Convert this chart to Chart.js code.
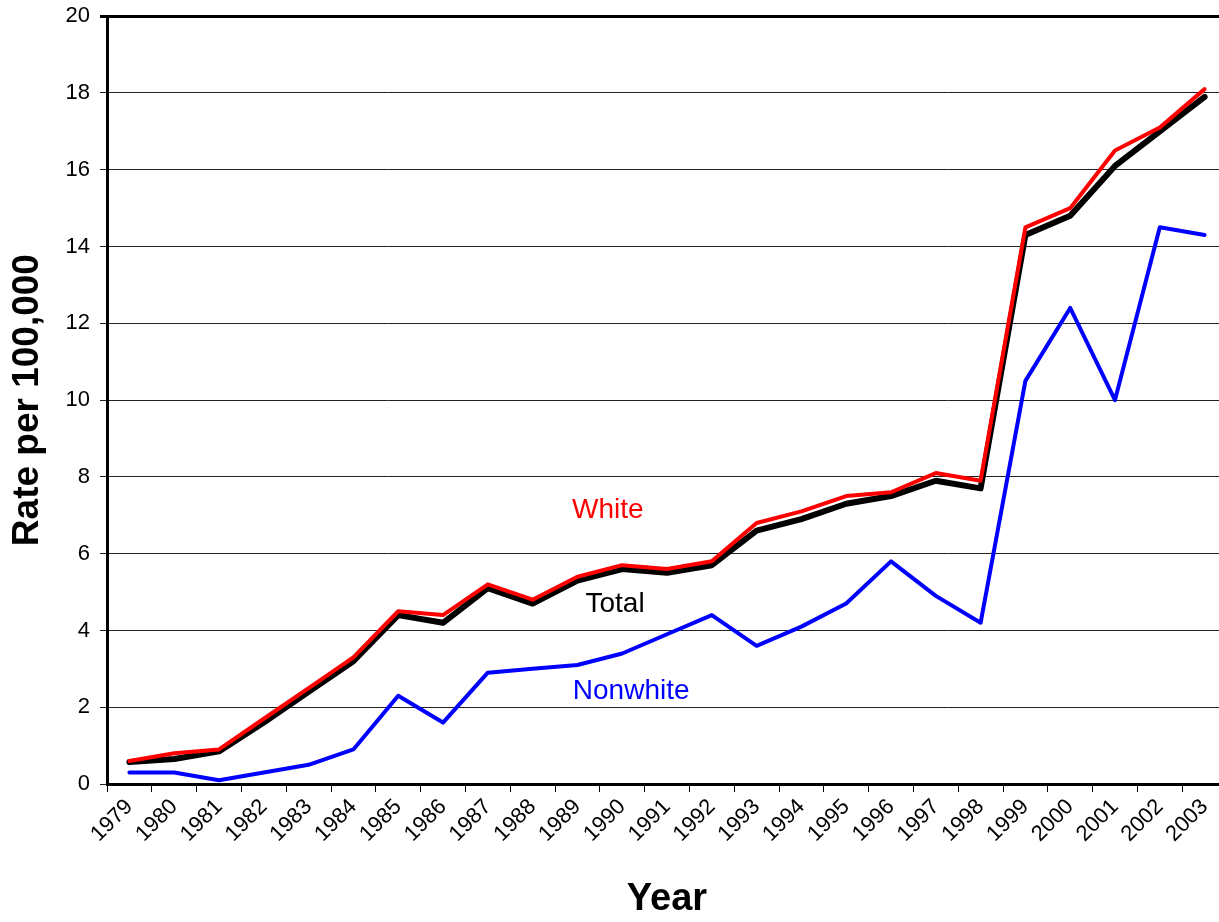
<!DOCTYPE HTML>
<html>

<head>
    <title>Rate per 100,000 by Year</title>
    <meta charset="utf-8" />
    <script src="https://cdn.jsdelivr.net/npm/chart.js@4"></script>
    <style>
        body { margin: 0; background: #fff; }
        #frame { position: relative; width: 1219px; height: 922px; overflow: hidden; }
        /* plot runs a little past the right edge, as in the original */
        #wrap { position: absolute; left: 0; top: -7px; width: 1227px; height: 929px; }
    </style>
</head>

<body>
    <div id="frame"><div id="wrap"><canvas id="rateChart"></canvas></div></div>

    <script>
        // Data
        const years = ['1979', '1980', '1981', '1982', '1983', '1984', '1985', '1986', '1987', '1988', '1989', '1990', '1991',
            '1992', '1993', '1994', '1995', '1996', '1997', '1998', '1999', '2000', '2001', '2002', '2003'];
        const whiteRate = [0.6, 0.8, 0.9, 1.7, 2.5, 3.3, 4.5, 4.4, 5.2, 4.8, 5.4, 5.7, 5.6,
            5.8, 6.8, 7.1, 7.5, 7.6, 8.1, 7.9, 14.5, 15.0, 16.5, 17.1, 18.1];
        const totalRate = [0.57, 0.65, 0.85, 1.6, 2.4, 3.2, 4.4, 4.2, 5.1, 4.7, 5.3, 5.6, 5.5,
            5.7, 6.6, 6.9, 7.3, 7.5, 7.9, 7.7, 14.3, 14.8, 16.1, 17.0, 17.9];
        const nonwhiteRate = [0.3, 0.3, 0.1, 0.3, 0.5, 0.9, 2.3, 1.6, 2.9, 3.0, 3.1, 3.4, 3.9,
            4.4, 3.6, 4.1, 4.7, 5.8, 4.9, 4.2, 10.5, 12.4, 10.0, 14.5, 14.3];
        const yTicks = [0, 2, 4, 6, 8, 10, 12, 14, 16, 18, 20];

        // Series names written inside the plot (year index, value)
        const seriesLabels = [
            { text: 'White', color: '#ff0000', at: 10.68, value: 7.14 },
            { text: 'Total', color: '#000000', at: 10.84, value: 4.69 },
            { text: 'Nonwhite', color: '#0000ff', at: 11.2, value: 2.42 },
        ];

        // Draw the in-plot series names
        const seriesLabelPlugin = {
            id: 'seriesLabels',
            afterDatasetsDraw(chart) {
                const ctx = chart.ctx;
                const x = chart.scales.x, y = chart.scales.y;
                ctx.save();
                ctx.font = '28px "Liberation Sans", Arial, sans-serif';
                ctx.textAlign = 'center';
                ctx.textBaseline = 'middle';
                seriesLabels.forEach(l => {
                    ctx.fillStyle = l.color;
                    ctx.fillText(l.text, x.getPixelForValue(l.at), y.getPixelForValue(l.value));
                });
                ctx.restore();
            }
        };

        const font = { family: '"Liberation Sans", Arial, sans-serif', size: 22 };

        new Chart(document.getElementById('rateChart').getContext('2d'), {
            type: 'line',
            data: {
                labels: years,
                datasets: [
                    { label: 'White', data: whiteRate, borderColor: '#ff0000', borderWidth: 4 },
                    { label: 'Total', data: totalRate, borderColor: '#000000', borderWidth: 6 },
                    { label: 'Nonwhite', data: nonwhiteRate, borderColor: '#0000ff', borderWidth: 4 },
                ],
            },
            options: {
                responsive: true,
                maintainAspectRatio: false,
                animation: false,
                layout: { padding: { top: 9, right: 0, left: 0, bottom: 0 } },
                elements: { point: { radius: 0 }, line: { tension: 0, borderJoinStyle: 'round', borderCapStyle: 'round' } },
                plugins: { legend: { display: false }, tooltip: { enabled: false } },
                scales: {
                    x: {
                        offset: true,
                        grid: { offset: true, drawOnChartArea: false, drawTicks: true, tickLength: 8, color: '#000', lineWidth: 1 },
                        border: { color: '#000', width: 3 },
                        ticks: { color: '#000', font: font, minRotation: 45, maxRotation: 45, autoSkip: false, padding: 2 },
                        title: { display: true, text: 'Year', color: '#000', font: { family: font.family, size: 38, weight: 'bold' }, padding: { top: 0, bottom: 0 } },
                        afterFit(scale) { scale.height = 138; },
                    },
                    y: {
                        min: 0,
                        max: 20,
                        afterBuildTicks(scale) { scale.ticks = yTicks.map(v => ({ value: v })); },
                        grid: {
                            color: ctx => ctx.tick && ctx.tick.value === 20 ? '#000' : '#222',
                            lineWidth: ctx => ctx.tick && ctx.tick.value === 20 ? 3 : 1,
                            tickLength: 7,
                        },
                        border: { color: '#000', width: 3 },
                        ticks: { color: '#000', font: font, padding: 10 },
                        title: { display: true, text: 'Rate per 100,000', color: '#000', font: { family: font.family, size: 37, weight: 'bold' }, padding: { top: 6, bottom: 0 } },
                        afterFit(scale) { scale.width = 107; },
                    },
                },
            },
            plugins: [seriesLabelPlugin],
        });
    </script>
</body>

</html>
